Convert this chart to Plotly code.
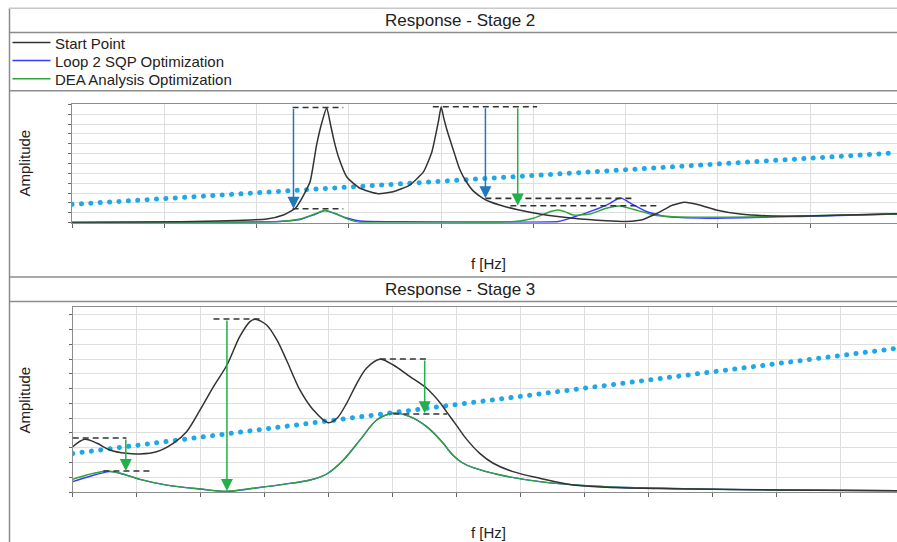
import plotly.graph_objects as go

W, H = 897, 542

# ---------------- Stage 2 data (x: frequency grid units, y: amplitude grid units)
s2_start_x = [0.00, 1.17, 2.11, 2.29, 2.42, 2.47, 2.58, 2.65, 2.71, 2.76, 2.80, 2.84, 2.89, 2.98, 3.12, 3.32,
              3.48, 3.66, 3.81, 3.90, 3.97, 4.00, 4.03, 4.06, 4.10, 4.15, 4.20, 4.27, 4.35, 4.45, 4.53, 4.67,
              4.82, 5.07, 5.43, 5.79, 6.01, 6.18, 6.30, 6.41, 6.51, 6.64, 6.80, 6.98, 7.24, 7.59, 7.96, 8.94]
s2_start_y = [0.02, 0.10, 0.37, 0.78, 1.46, 2.13, 4.15, 7.87, 10.23, 11.65, 10.00, 8.30, 6.60, 4.60, 3.49, 2.94,
              3.14, 3.82, 5.17, 7.19, 10.23, 11.75, 10.55, 9.50, 8.30, 6.85, 5.45, 4.20, 3.20, 2.50, 2.12, 1.69,
              1.34, 0.88, 0.45, 0.20, 0.13, 0.30, 0.78, 1.30, 1.79, 2.07, 1.79, 1.29, 0.88, 0.68, 0.68, 0.91]

s2_sqp_x = [0.00, 1.39, 2.25, 2.47, 2.63, 2.74, 2.85, 2.96, 3.12, 3.55, 4.64, 5.27, 5.43, 5.64, 5.83, 5.92,
            5.96, 6.07, 6.23, 6.44, 6.88, 7.89, 8.94]
s2_sqp_y = [0.02, 0.04, 0.12, 0.32, 0.83, 1.22, 0.93, 0.53, 0.17, 0.09, 0.07, 0.12, 0.55, 1.22, 1.97, 2.45,
            2.47, 1.89, 1.11, 0.61, 0.45, 0.63, 0.88]

s2_dea_x = [0.00, 2.25, 2.47, 2.63, 2.74, 2.85, 2.99, 3.12, 4.64, 4.85, 5.00, 5.18, 5.27, 5.34, 5.43, 5.61,
            5.79, 5.94, 6.08, 6.30, 6.51, 7.35, 8.94]
s2_dea_y = [0.02, 0.12, 0.37, 0.88, 1.26, 0.93, 0.37, 0.04, 0.04, 0.17, 0.45, 1.11, 1.29, 1.13, 0.78, 0.88,
            1.46, 1.69, 1.36, 0.78, 0.61, 0.58, 0.88]

s2_limit_x = [0.00, 8.94]
s2_limit_y = [1.86, 7.09]

s2_ref_x0 = [2.39, 2.39, 3.91, 4.48, 4.75]
s2_ref_x1 = [2.94, 2.94, 5.04, 6.10, 6.37]
s2_ref_y = [11.67, 1.42, 11.75, 2.47, 1.72]

s2_arrow_x = [2.40, 4.48, 4.83]
s2_arrow_from = [11.67, 11.75, 11.75]
s2_arrow_to = [1.42, 2.47, 1.74]
s2_arrow_kind = ["sqp", "sqp", "dea"]

# ---------------- Stage 3 data
s3_start_x = [0.00, 0.19, 0.38, 0.58, 0.84, 1.05, 1.31, 1.57, 1.78, 1.99, 2.20, 2.41, 2.61, 2.77, 2.85, 3.03,
              3.19, 3.34, 3.55, 3.76, 3.99, 4.13, 4.28, 4.44, 4.59, 4.80, 5.01, 5.27, 5.53, 5.74, 5.84, 6.00,
              6.16, 6.36, 6.57, 6.88, 7.30, 7.82, 8.34, 9.38, 10.95, 12.88]
s3_start_y = [3.07, 3.57, 3.30, 2.85, 2.62, 2.58, 2.73, 3.30, 4.09, 5.56, 7.14, 8.61, 10.53, 11.55, 11.71, 11.32,
              10.31, 8.95, 6.92, 5.56, 4.70, 5.00, 6.01, 7.37, 8.39, 9.00, 8.61, 7.82, 7.03, 6.05, 5.45, 4.50,
              3.55, 2.62, 1.95, 1.38, 0.93, 0.47, 0.32, 0.22, 0.14, 0.09]

s3_sqp_x = [0.00, 0.22, 0.58, 0.74, 1.05, 1.47, 1.99, 2.41, 2.82, 3.29, 3.71, 3.97, 4.23, 4.49, 4.75, 5.01,
            5.27, 5.53, 5.79, 5.87, 5.95, 6.08, 6.26, 6.68, 7.30, 8.08, 9.13, 10.95, 12.88]
s3_sqp_y = [0.70, 1.00, 1.38, 1.27, 0.86, 0.47, 0.20, 0.03, 0.25, 0.52, 0.81, 1.22, 2.17, 3.53, 4.88, 5.34,
            5.11, 4.43, 3.30, 2.85, 2.45, 2.00, 1.65, 1.15, 0.70, 0.41, 0.25, 0.14, 0.09]

s3_dea_x = [0.00, 0.22, 0.53, 0.74, 1.05, 1.47, 1.99, 2.41, 2.82, 3.29, 3.71, 3.97, 4.23, 4.49, 4.75, 5.01,
            5.27, 5.53, 5.79, 5.87, 5.95, 6.08, 6.26, 6.68, 7.30, 8.08, 9.13, 10.95, 12.88]
s3_dea_y = [0.86, 1.15, 1.42, 1.27, 0.86, 0.47, 0.20, 0.05, 0.25, 0.52, 0.81, 1.22, 2.17, 3.53, 4.88, 5.34,
            5.11, 4.43, 3.30, 2.85, 2.45, 2.00, 1.65, 1.15, 0.70, 0.41, 0.25, 0.14, 0.09]

s3_limit_x = [0.00, 12.88]
s3_limit_y = [2.61, 9.74]

s3_ref_x0 = [0.00, 0.48, 2.20, 4.80, 5.01]
s3_ref_x1 = [0.84, 1.26, 2.98, 5.58, 5.85]
s3_ref_y = [3.66, 1.42, 11.73, 9.02, 5.29]

s3_arrow_x = [0.83, 2.41, 5.50]
s3_arrow_from = [3.66, 11.73, 9.02]
s3_arrow_to = [1.42, 0.07, 5.34]
s3_arrow_kind = ["dea", "dea", "dea"]

series_names = ["Start Point", "Loop 2 SQP Optimization", "DEA Analysis Optimization"]
panel_titles = ["Response - Stage 2", "Response - Stage 3"]
x_title = "f [Hz]"
y_title = "Amplitude"

# ---------------- styles
FONT = "Liberation Sans, Arial, sans-serif"
C_START = "#333333"
C_SQP = "#3a3aff"
C_DEA = "#2fa33a"
C_LIMIT = "rgb(30, 168, 232)"
C_ARROW = {"sqp": "#1f77c0", "dea": "#22b04b"}
C_FRAME = "#8c8c8c"
C_GRID = "#dedede"


def px(x):
    return x / W


def py(y):
    return 1 - y / H


fig = go.Figure()


def add_curves(xa, ya, sx, sy, qx, qy, dx, dy, lx, ly, smooth):
    fig.add_trace(go.Scatter(x=lx, y=ly, mode="lines", xaxis=xa, yaxis=ya, showlegend=False,
                             line=dict(color=C_LIMIT, width=5, dash="0.1px,9.3px")))
    fig.add_trace(go.Scatter(x=qx, y=qy, mode="lines", xaxis=xa, yaxis=ya, showlegend=False,
                             line=dict(color=C_SQP, width=1.4, shape="spline", smoothing=smooth)))
    fig.add_trace(go.Scatter(x=dx, y=dy, mode="lines", xaxis=xa, yaxis=ya, showlegend=False,
                             line=dict(color=C_DEA, width=1.4, shape="spline", smoothing=smooth)))
    fig.add_trace(go.Scatter(x=sx, y=sy, mode="lines", xaxis=xa, yaxis=ya, showlegend=False,
                             line=dict(color=C_START, width=1.5, shape="spline", smoothing=smooth)))


add_curves("x", "y", s2_start_x, s2_start_y, s2_sqp_x, s2_sqp_y, s2_dea_x, s2_dea_y,
           s2_limit_x, s2_limit_y, 0.5)
add_curves("x2", "y2", s3_start_x, s3_start_y, s3_sqp_x, s3_sqp_y, s3_dea_x, s3_dea_y,
           s3_limit_x, s3_limit_y, 0.9)

shapes = []
annotations = []

# dashed reference levels and arrows
for xr, yr, x0s, x1s, ys in [("x", "y", s2_ref_x0, s2_ref_x1, s2_ref_y),
                             ("x2", "y2", s3_ref_x0, s3_ref_x1, s3_ref_y)]:
    for a, b, c in zip(x0s, x1s, ys):
        shapes.append(dict(type="line", xref=xr, yref=yr, x0=a, x1=b, y0=c, y1=c,
                           line=dict(color="#333333", width=1.6, dash="6px,4px")))

for xr, yr, xs, fr, to, kind in [("x", "y", s2_arrow_x, s2_arrow_from, s2_arrow_to, s2_arrow_kind),
                                 ("x2", "y2", s3_arrow_x, s3_arrow_from, s3_arrow_to, s3_arrow_kind)]:
    for a, f, t, k in zip(xs, fr, to, kind):
        annotations.append(dict(x=a, y=t, ax=a, ay=f, xref=xr, yref=yr, axref=xr, ayref=yr,
                                text="", showarrow=True, arrowhead=2, arrowsize=1.6,
                                arrowwidth=1.5, arrowcolor=C_ARROW[k], standoff=0))


# panel frame lines
def hline(y, color=C_FRAME, width=1.5):
    shapes.append(dict(type="line", xref="paper", yref="paper", x0=px(9), x1=1,
                       y0=py(y), y1=py(y), line=dict(color=color, width=width)))


shapes.append(dict(type="line", xref="paper", yref="paper", x0=px(9.5), x1=px(9.5),
                   y0=py(8), y1=0, line=dict(color=C_FRAME, width=1.5)))
hline(8.3, "#c8c8c8", 1.5)
hline(32.5)
hline(90.8)
hline(277)
hline(301.5)

# legend (drawn manually)
leg_y = [42.5, 60.5, 78.7]
leg_col = [C_START, C_SQP, C_DEA]
for name, yy, col in zip(series_names, leg_y, leg_col):
    shapes.append(dict(type="line", xref="paper", yref="paper", x0=px(12.5), x1=px(50.5),
                       y0=py(yy), y1=py(yy), line=dict(color=col, width=1.5)))
    annotations.append(dict(x=px(53), y=py(yy + 0.5), xref="paper", yref="paper", text=name,
                            showarrow=False, xanchor="left", yanchor="middle",
                            font=dict(family=FONT, size=15, color="#222222")))

# titles
for t, yy in zip(panel_titles, [20.5, 289.5]):
    annotations.append(dict(x=px(460), y=py(yy), xref="paper", yref="paper", text=t, showarrow=False,
                            xanchor="center", yanchor="middle",
                            font=dict(family=FONT, size=17, color="#222222")))
for yy in [163, 400]:
    annotations.append(dict(x=px(23.5), y=py(yy), xref="paper", yref="paper", text=y_title,
                            showarrow=False, textangle=-90, xanchor="center", yanchor="middle",
                            font=dict(family=FONT, size=15, color="#222222")))
for yy in [263.5, 532]:
    annotations.append(dict(x=px(488), y=py(yy), xref="paper", yref="paper", text=x_title,
                            showarrow=False, xanchor="center", yanchor="middle",
                            font=dict(family=FONT, size=15, color="#222222")))

axis_common = dict(showticklabels=False, showgrid=True, gridcolor=C_GRID, gridwidth=1,
                   zeroline=False, showline=True, linecolor=C_FRAME, linewidth=1.3,
                   ticks="outside", tickcolor="#666666", tick0=0, dtick=1, fixedrange=True)

fig.update_layout(
    width=W, height=H, margin=dict(l=0, r=0, t=0, b=0), autosize=False,
    paper_bgcolor="white", plot_bgcolor="white", showlegend=False,
    xaxis=dict(domain=[px(72), 1], range=[0, 8.94], anchor="y", mirror=True, ticklen=4, **axis_common),
    yaxis=dict(domain=[py(222.7), py(104.3)], range=[0, 12], anchor="x", ticklen=3, **axis_common),
    xaxis2=dict(domain=[px(72.7), 1], range=[0, 12.88], anchor="y2", mirror=True, ticklen=4, **axis_common),
    yaxis2=dict(domain=[py(492), py(306.7)], range=[0, 12.56], anchor="x2", ticklen=3, **axis_common),
    shapes=shapes, annotations=annotations,
)

# round line caps so the dotted limit lines render as round dots
post = """
function roundDots(){
  var gd = document.getElementById('{plot_id}');
  gd.querySelectorAll('path.js-line').forEach(function(p){
    if ((p.style.stroke || '').replace(/\\s/g,'') === 'rgb(30,168,232)') {
      p.style.strokeLinecap = 'round';
    }
  });
}
roundDots();
var gdp = document.getElementById('{plot_id}');
if (gdp && gdp.on) { gdp.on('plotly_afterplot', roundDots); }
"""

fig.write_html("out.html", post_script=post)
